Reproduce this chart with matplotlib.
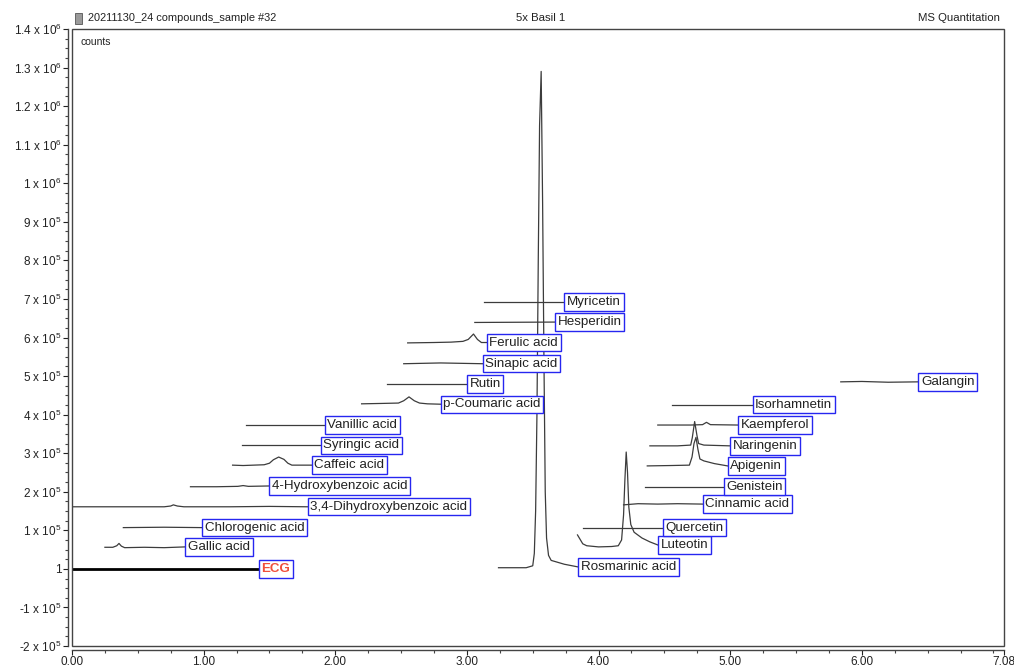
import matplotlib
matplotlib.use('Agg')
from matplotlib import pyplot as plt
from matplotlib.patches import Rectangle
from matplotlib.ticker import FixedLocator, MultipleLocator

plt.rcParams['font.family'] = ['Liberation Sans', 'DejaVu Sans']
plt.rcParams['mathtext.default'] = 'regular'

# retention time (min) and signal (x 1e5 counts) of each extracted trace
names = [
    'ECG', 'Gallic acid', 'Chlorogenic acid', '3,4-Dihydroxybenzoic acid',
    '4-Hydroxybenzoic acid', 'Caffeic acid', 'Syringic acid', 'Vanillic acid',
    'p-Coumaric acid', 'Rutin', 'Sinapic acid', 'Ferulic acid', 'Hesperidin',
    'Myricetin', 'Rosmarinic acid', 'Luteotin', 'Quercetin', 'Cinnamic acid',
    'Genistein', 'Apigenin', 'Naringenin', 'Kaempferol', 'Isorhamnetin', 'Galangin',
]

trace_x = [
    [0.00, 1.42],
    [0.25, 0.31, 0.34, 0.357, 0.375, 0.40, 0.55, 0.70, 0.86],
    [0.39, 0.70, 0.99],
    [0.00, 0.40, 0.70, 0.75, 0.77, 0.80, 0.85, 1.20, 1.50, 1.79],
    [0.90, 1.10, 1.26, 1.30, 1.34, 1.50],
    [1.22, 1.30, 1.46, 1.50, 1.53, 1.57, 1.61, 1.64, 1.67, 1.82],
    [1.29, 1.89],
    [1.32, 1.92],
    [2.20, 2.35, 2.48, 2.52, 2.56, 2.60, 2.64, 2.70, 2.80],
    [2.39, 3.00],
    [2.52, 2.80, 3.12],
    [2.55, 2.75, 2.88, 2.97, 3.01, 3.05, 3.08, 3.11, 3.15],
    [3.06, 3.67],
    [3.13, 3.74],
    [3.24, 3.45, 3.50, 3.512, 3.522, 3.532, 3.542, 3.552, 3.564, 3.575, 3.585,
     3.595, 3.605, 3.62, 3.64, 3.68, 3.74, 3.80, 3.845],
    [3.84, 3.88, 3.91, 4.00, 4.10, 4.15, 4.175, 4.19, 4.20, 4.21, 4.22, 4.23,
     4.245, 4.27, 4.33, 4.39, 4.45],
    [3.88, 4.49],
    [4.19, 4.30, 4.45, 4.60, 4.79],
    [4.35, 4.95],
    [4.37, 4.55, 4.69, 4.71, 4.725, 4.74, 4.755, 4.77, 4.80, 4.88, 4.98],
    [4.39, 4.60, 4.70, 4.712, 4.73, 4.748, 4.76, 4.80, 5.00],
    [4.45, 4.70, 4.79, 4.82, 4.85, 5.06],
    [4.56, 5.17],
    [5.84, 6.00, 6.20, 6.43],
]

trace_y = [
    [0.00, 0.00],
    [0.56, 0.56, 0.60, 0.66, 0.59, 0.55, 0.56, 0.55, 0.57],
    [1.07, 1.08, 1.07],
    [1.61, 1.61, 1.61, 1.63, 1.66, 1.63, 1.61, 1.61, 1.62, 1.61],
    [2.13, 2.13, 2.14, 2.16, 2.14, 2.15],
    [2.69, 2.68, 2.70, 2.74, 2.83, 2.90, 2.84, 2.74, 2.69, 2.69],
    [3.20, 3.20],
    [3.73, 3.73],
    [4.28, 4.29, 4.30, 4.36, 4.46, 4.36, 4.30, 4.28, 4.27],
    [4.79, 4.79],
    [5.32, 5.34, 5.32],
    [5.86, 5.87, 5.88, 5.90, 5.95, 6.09, 5.95, 5.87, 5.87],
    [6.39, 6.40],
    [6.92, 6.92],
    [0.03, 0.03, 0.08, 0.4, 1.5, 4.0, 8.0, 11.5, 12.9, 9.5, 5.5,
     2.0, 0.8, 0.35, 0.22, 0.18, 0.12, 0.08, 0.05],
    [0.88, 0.65, 0.60, 0.57, 0.58, 0.60, 0.75, 1.40, 2.30, 3.03, 2.50, 1.60,
     1.15, 0.95, 0.80, 0.70, 0.62],
    [1.07, 1.07],
    [1.66, 1.69, 1.68, 1.69, 1.68],
    [2.13, 2.13],
    [2.67, 2.68, 2.69, 2.90, 3.25, 3.41, 3.10, 2.85, 2.80, 2.73, 2.67],
    [3.19, 3.19, 3.21, 3.40, 3.82, 3.45, 3.25, 3.21, 3.19],
    [3.73, 3.73, 3.74, 3.80, 3.74, 3.73],
    [4.26, 4.26],
    [4.85, 4.86, 4.84, 4.85],
]

y_ticks = [-2, -1, 0, 1, 2, 3, 4, 5, 6, 7, 8, 9, 10, 11, 12, 13, 14]
y_labels = ['-2 x 10$^5$', '-1 x 10$^5$', '1', '1 x 10$^5$', '2 x 10$^5$',
            '3 x 10$^5$', '4 x 10$^5$', '5 x 10$^5$', '6 x 10$^5$',
            '7 x 10$^5$', '8 x 10$^5$', '9 x 10$^5$', '1 x 10$^6$',
            '1.1 x 10$^6$', '1.2 x 10$^6$', '1.3 x 10$^6$', '1.4 x 10$^6$']
x_ticks = [0, 1, 2, 3, 4, 5, 6, 7.08]
x_labels = ['0.00', '1.00', '2.00', '3.00', '4.00', '5.00', '6.00', '7.08']

fig = plt.figure(figsize=(10.14, 6.66), dpi=100)
ax = fig.add_axes([72 / 1014, 20 / 666, 932 / 1014, 617 / 666])

box = dict(boxstyle='square,pad=0.2', fc='white', ec='#2626f0', lw=1)
for name, xs, ys in zip(names, trace_x, trace_y):
    yv = [v * 1e5 for v in ys]
    if name == 'ECG':
        ax.plot(xs, yv, color='black', lw=2.0, solid_capstyle='butt')
        ax.annotate(name, (xs[-1], yv[-1]), xytext=(1.9, 0), textcoords='offset points',
                    ha='left', va='center', fontsize=9.6, color='#f0503c', fontweight='bold',
                    bbox=box)
    else:
        ax.plot(xs, yv, color='#3c3c3c', lw=0.9)
        ax.annotate(name, (xs[-1], yv[-1]), xytext=(1.9, 0), textcoords='offset points',
                    ha='left', va='center', fontsize=9.6, color='#222222', bbox=box)

ax.set_xlim(0, 7.08)
ax.set_ylim(-2e5, 14e5)

ax.yaxis.set_major_locator(FixedLocator([v * 1e5 for v in y_ticks]))
ax.set_yticklabels(y_labels)
ax.yaxis.set_minor_locator(MultipleLocator(2.5e4))
ax.xaxis.set_major_locator(FixedLocator(x_ticks))
ax.set_xticklabels(x_labels)
ax.xaxis.set_minor_locator(MultipleLocator(0.25))

for side in ['top', 'right']:
    ax.spines[side].set_visible(False)
for side in ['left', 'bottom']:
    ax.spines[side].set_position(('outward', 3))
    ax.spines[side].set_color('#444444')
    ax.spines[side].set_linewidth(1.0)

ax.tick_params(axis='both', which='major', labelsize=8.5, colors='#222222', length=3.5, width=0.8)
ax.tick_params(axis='both', which='minor', length=2.2, width=0.8, colors='#444444')
ax.tick_params(axis='y', pad=1)
ax.tick_params(axis='x', pad=0.5)

ax.add_patch(Rectangle((0, 0), 1, 1, transform=ax.transAxes, fill=False,
                       ec='#444444', lw=1.0, clip_on=False, zorder=5))

ax.text(0.009, 0.987, 'counts', transform=ax.transAxes, ha='left', va='top',
        fontsize=7.5, color='#222222')

# header line
fig.patches.append(Rectangle((75 / 1014, 1 - 24 / 666), 7 / 1014, 11 / 666,
                             transform=fig.transFigure, fc='#9a9a9a', ec='#555555', lw=0.6))
fig.text(88 / 1014, 1 - 18 / 666, '20211130_24 compounds_sample #32', ha='left', va='center',
         fontsize=7.9, color='#222222')
fig.text(541 / 1014, 1 - 18 / 666, '5x Basil 1', ha='center', va='center',
         fontsize=8.2, color='#222222')
fig.text(1000 / 1014, 1 - 18 / 666, 'MS Quantitation', ha='right', va='center',
         fontsize=8.2, color='#222222')

fig.savefig('out.png', dpi=100)
